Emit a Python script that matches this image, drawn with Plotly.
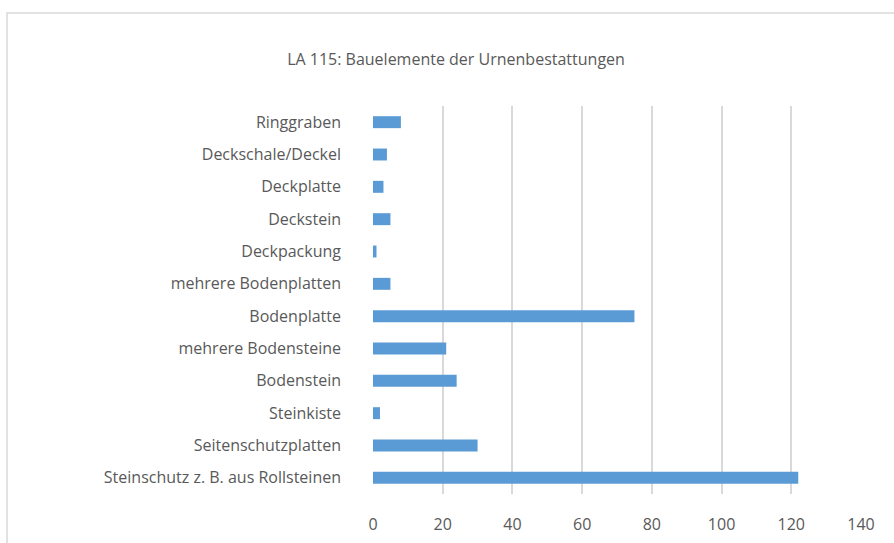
import plotly.graph_objects as go

categories = [
    "Steinschutz z. B. aus Rollsteinen",
    "Seitenschutzplatten",
    "Steinkiste",
    "Bodenstein",
    "mehrere Bodensteine",
    "Bodenplatte",
    "mehrere Bodenplatten",
    "Deckpackung",
    "Deckstein",
    "Deckplatte",
    "Deckschale/Deckel",
    "Ringgraben",
]
values = [122, 30, 2, 24, 21, 75, 5, 1, 5, 3, 4, 8]
x_ticks = [0, 20, 40, 60, 80, 100, 120, 140]
title_text = "LA 115: Bauelemente der Urnenbestattungen"

W, H = 894, 543
L, R, T, B = 373, 861, 106, 494
FS = 16

fig = go.Figure(
    go.Bar(
        x=values,
        y=categories,
        orientation="h",
        marker=dict(color="#5B9BD5", line=dict(width=0)),
        width=0.37,
    )
)

fig.update_layout(
    width=W,
    height=H,
    margin=dict(l=L, r=W - R, t=T, b=H - B, pad=0, autoexpand=False),
    paper_bgcolor="white",
    plot_bgcolor="white",
    showlegend=False,
    font=dict(family="Open Sans, Noto Sans, sans-serif", size=FS, color="#595959"),
    title=dict(
        text=title_text,
        x=456 / W,
        xanchor="center",
        xref="container",
        y=1 - 59 / H,
        yanchor="middle",
        yref="container",
        font=dict(size=FS, color="#595959"),
    ),
)

fig.update_xaxes(
    range=[0, 140],
    tickvals=x_ticks,
    showgrid=True,
    gridcolor="#d9d9d9",
    gridwidth=2,
    zeroline=False,
    showline=False,
    ticks="",
    automargin=False,
    ticklabelstandoff=19,
    tickfont=dict(size=FS, color="#595959"),
    fixedrange=True,
)
fig.update_yaxes(
    categoryorder="array",
    categoryarray=categories,
    range=[-0.5, len(categories) - 0.5],
    showgrid=False,
    zeroline=False,
    showline=False,
    ticks="",
    automargin=False,
    ticklabelstandoff=31,
    tickfont=dict(size=FS, color="#595959"),
    fixedrange=True,
)

# outer chart border (partially cropped in reference)
pw = R - L
ph = B - T
fig.add_shape(
    type="rect",
    xref="paper",
    yref="paper",
    x0=(7 - L) / pw,
    x1=(W + 10 - L) / pw,
    y0=(B - (H + 10)) / ph,
    y1=(B - 13) / ph,
    line=dict(color="#d9d9d9", width=1.5),
    fillcolor="rgba(0,0,0,0)",
    layer="below",
)

fig.write_html(
    "out.html",
    config={"displayModeBar": False},
    post_script="document.body.style.margin='0';document.body.style.overflow='hidden';",
)
